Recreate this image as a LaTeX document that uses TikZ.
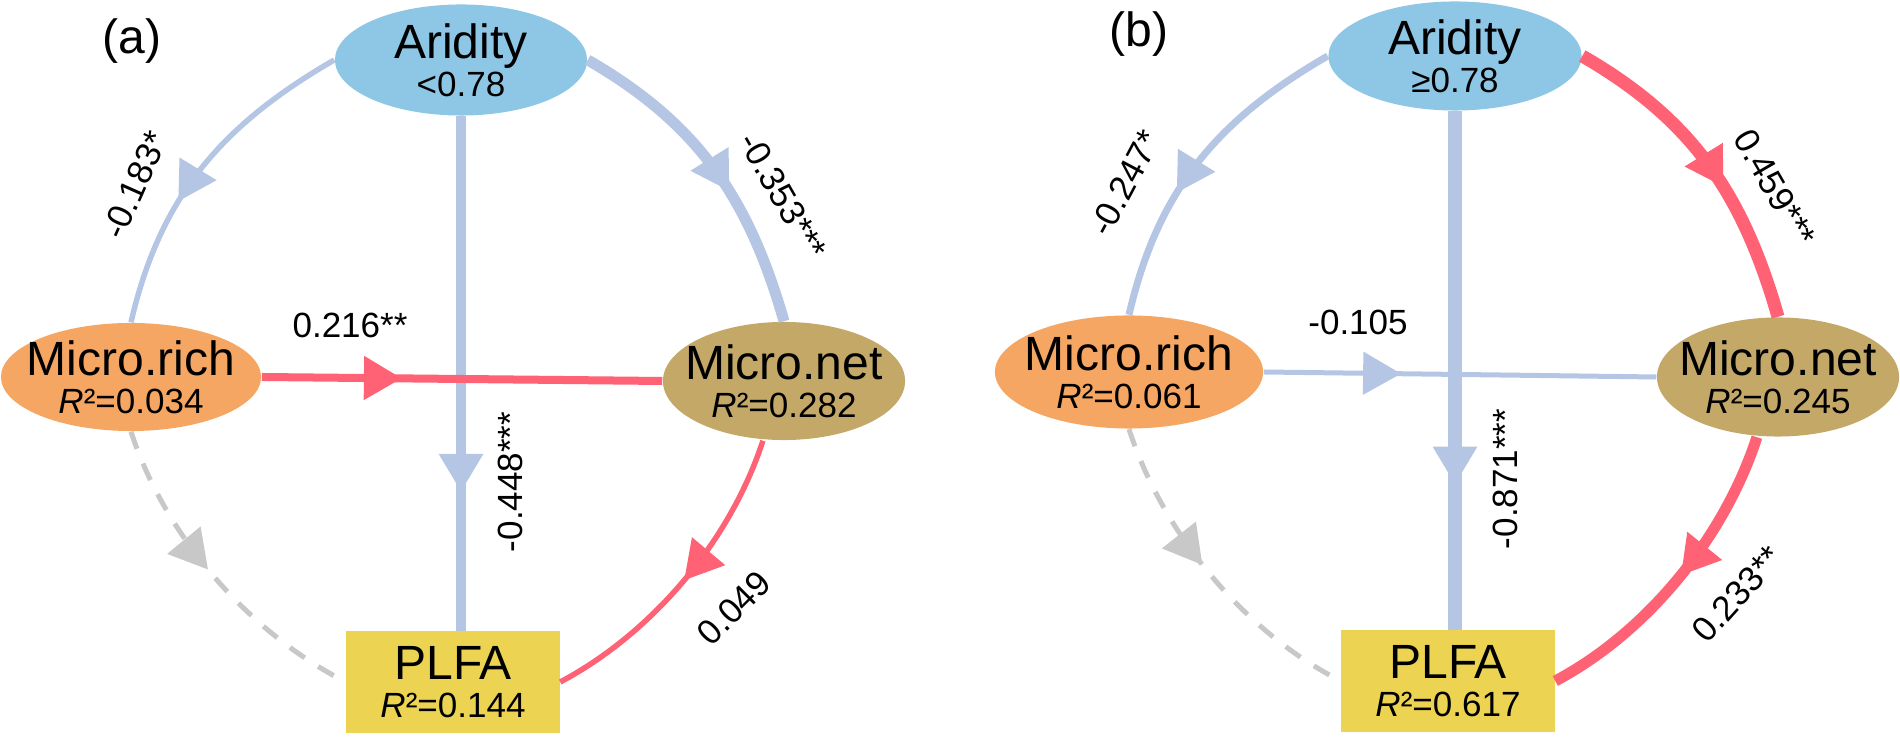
\documentclass[tikz,border=0pt]{standalone}
\usepackage{fontspec}
\setmainfont{Liberation Sans}
\usetikzlibrary{calc, positioning}
\usetikzlibrary{arrows.meta}
\usetikzlibrary{shapes.geometric}
\usetikzlibrary{decorations.markings}

\definecolor{aridblue}{RGB}{142,199,230}
\definecolor{richorange}{RGB}{245,166,98}
\definecolor{netbrown}{RGB}{196,168,104}
\definecolor{plfayellow}{RGB}{236,212,82}
\definecolor{negblue}{RGB}{180,198,228}
\definecolor{posred}{RGB}{255,98,116}
\definecolor{nsgrey}{RGB}{200,200,200}

\newcommand{\bigtxt}{\fontsize{13.66}{10.8}\selectfont}
\newcommand{\smalltxt}{\fontsize{9.96}{10.8}\selectfont}
\newcommand{\rsq}[1]{{\smalltxt\textit{R}²=#1}}

\begin{document}
\begin{tikzpicture}[x=0.01cm, y=0.01cm,
    oval/.style={ellipse, inner xsep=-5mm, inner ysep=-2mm, align=center, font=\bigtxt},
    plfabox/.style={rectangle, inner sep=0pt, minimum width=2.13cm, minimum height=1.01cm,
        align=center, font=\bigtxt, fill=plfayellow},
    coef/.style={inner sep=0pt, font=\smalltxt},
    panel/.style={inner sep=0pt, font=\bigtxt},
    negline/.style={negblue},
    posline/.style={posred},
    nsline/.style={nsgrey, dash pattern=on 1.8mm off 1.6mm},
    midtip/.style={postaction={decorate, decoration={markings,
        mark=at position #1 with {\arrow{Triangle[length=3.8mm, width=4.2mm]}}}}}]
\useasboundingbox (0,0) rectangle (1900,737);

% (a) aridity below 0.78
\node[panel] (lab_a) at (132,696) {(a)};
\node[oval, fill=aridblue, minimum width=2.52cm, minimum height=1.11cm] (ar_a) at (461,677) {Aridity\\{\smalltxt <0.78}};
\node[oval, fill=richorange, minimum width=2.60cm, minimum height=1.08cm] (mr_a) at (131,360) {Micro.rich\\\rsq{0.034}};
\node[oval, fill=netbrown, minimum width=2.42cm, minimum height=1.18cm] (mn_a) at (784,356) {Micro.net\\\rsq{0.282}};
\node[plfabox] (pl_a) at (453,55) {PLFA\\\rsq{0.144}};

\draw[negline, line width=0.55mm, midtip=0.62] (ar_a.west) to[out=210, in=77] (mr_a.north);
\draw[negline, line width=1.1mm, midtip=0.58] (ar_a.east) to[out=-30, in=106] (mn_a.north);
\draw[negline, line width=1.0mm, midtip=0.73] (ar_a.south) -- (ar_a.south |- pl_a.north);
\draw[posline, line width=0.8mm, midtip=0.35] (mr_a.east) -- (mn_a.west);
\draw[nsline, line width=0.5mm, midtip=0.47] (mr_a.south) to[out=-72, in=153, looseness=0.85] (pl_a.west);
\draw[posline, line width=0.55mm, midtip=0.5] ([xshift=-6]mn_a.south) to[out=-108, in=28, looseness=0.85] (pl_a.east);

\node[coef, rotate=66] (c_ar_mr_a) at (135,552) {-0.183*};
\node[coef, rotate=-60] (c_ar_mn_a) at (783,541) {-0.353***};
\node[coef, rotate=90] (c_ar_pl_a) at (510,255) {-0.448***};
\node[coef] (c_mr_mn_a) at (350,412) {0.216**};
\node[coef, rotate=45] (c_mn_pl_a) at (734,129) {0.049};

% (b) aridity from 0.78 up
\node[panel] (lab_b) at (1139,703) {(b)};
\node[oval, fill=aridblue, minimum width=2.53cm, minimum height=1.09cm] (ar_b) at (1455,681) {Aridity\\{\smalltxt ≥0.78}};
\node[oval, fill=richorange, minimum width=2.68cm, minimum height=1.13cm] (mr_b) at (1129,365) {Micro.rich\\\rsq{0.061}};
\node[oval, fill=netbrown, minimum width=2.42cm, minimum height=1.19cm] (mn_b) at (1778,360) {Micro.net\\\rsq{0.245}};
\node[plfabox] (pl_b) at (1448,56) {PLFA\\\rsq{0.617}};

\draw[negline, line width=0.7mm, midtip=0.61] (ar_b.west) to[out=210, in=77] (mr_b.north);
\draw[posline, line width=1.3mm, midtip=0.58] (ar_b.east) to[out=-30, in=106] (mn_b.north);
\draw[negline, line width=1.4mm, midtip=0.72] (ar_b.south) -- (ar_b.south |- pl_b.north);
\draw[negline, line width=0.5mm, midtip=0.35] (mr_b.east) -- (mn_b.west);
\draw[nsline, line width=0.5mm, midtip=0.46] (mr_b.south) to[out=-72, in=153, looseness=0.85] (pl_b.west);
\draw[posline, line width=1.1mm, midtip=0.49] ([xshift=-6]mn_b.south) to[out=-108, in=28, looseness=0.85] (pl_b.east);

\node[coef, rotate=62] (c_ar_mr_b) at (1125,554) {-0.247*};
\node[coef, rotate=-60] (c_ar_mn_b) at (1775,549) {0.459***};
\node[coef, rotate=90] (c_ar_pl_b) at (1505,258) {-0.871***};
\node[coef] (c_mr_mn_b) at (1358,415) {-0.105};
\node[coef, rotate=48] (c_mn_pl_b) at (1737,143) {0.233**};
\end{tikzpicture}
\end{document}
